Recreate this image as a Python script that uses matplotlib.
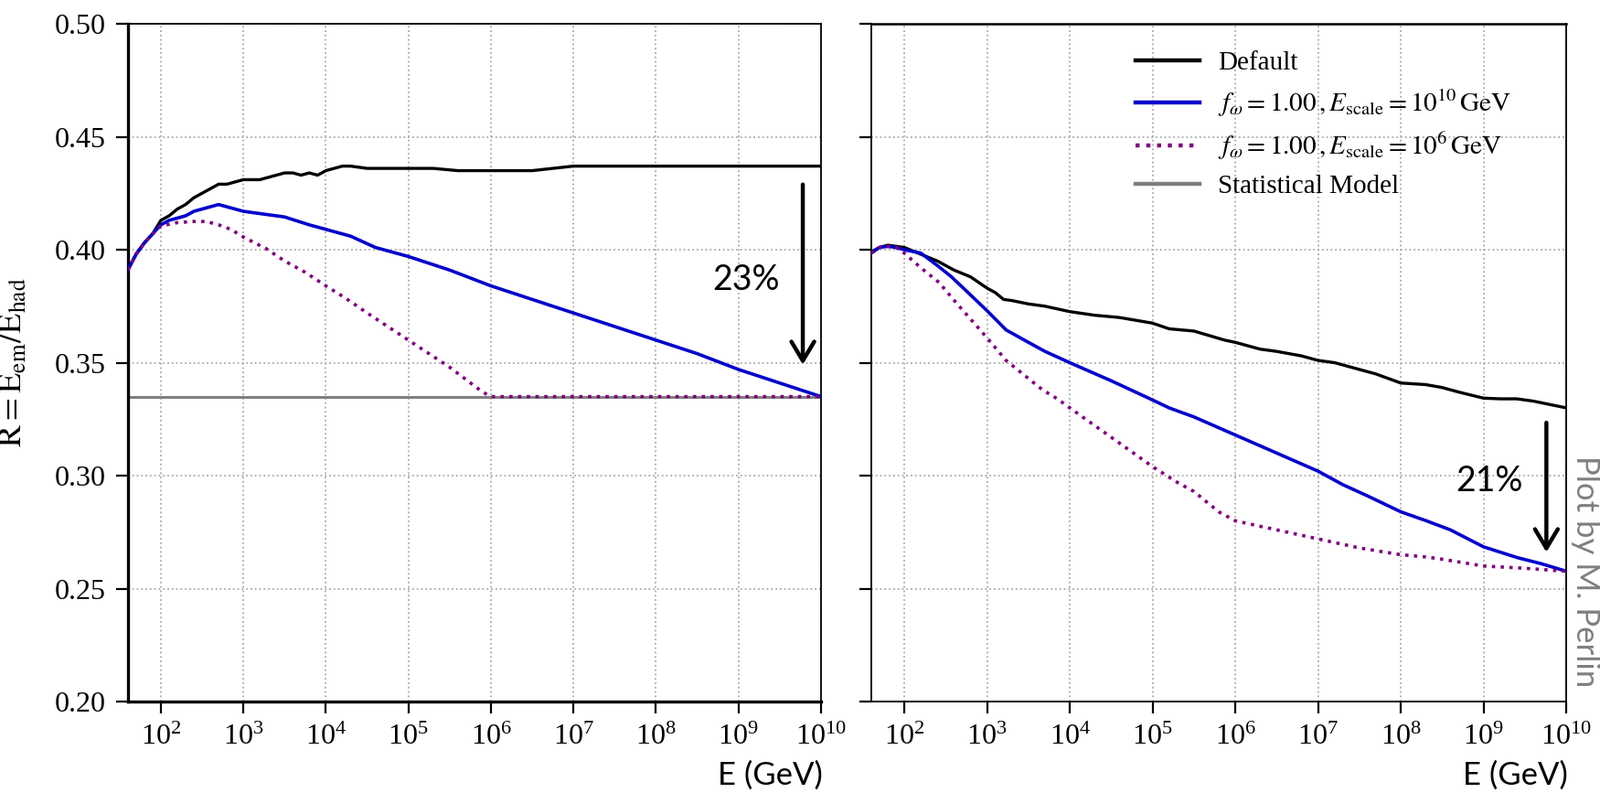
import numpy as np
import matplotlib
matplotlib.use('Agg')
import matplotlib.pyplot as plt
from matplotlib.ticker import FixedLocator, NullLocator, FormatStrFormatter

plt.rcParams['font.family'] = ['Liberation Serif', 'DejaVu Serif']
plt.rcParams['mathtext.fontset'] = 'stix'

# ---- data (log10 of E in GeV, R values) ----
# left panel
logE_def_l = [1.6, 1.7, 1.8, 1.9, 2.0, 2.1, 2.2, 2.3, 2.4, 2.5, 2.6, 2.7, 2.8, 2.9, 3.0, 3.2, 3.3,
              3.5, 3.6, 3.7, 3.8, 3.9, 4.0, 4.2, 4.3, 4.5, 4.8, 5.0, 5.3, 5.6, 6.0, 6.5, 7.0, 7.3,
              7.6, 8.0, 8.5, 9.0, 9.5, 10.0]
R_def_l = [0.391, 0.398, 0.403, 0.407, 0.413, 0.415, 0.418, 0.420, 0.423, 0.425, 0.427, 0.429, 0.429,
           0.430, 0.431, 0.431, 0.432, 0.434, 0.434, 0.433, 0.434, 0.433, 0.435, 0.437, 0.437, 0.436,
           0.436, 0.436, 0.436, 0.435, 0.435, 0.435, 0.437, 0.437, 0.437, 0.437, 0.437, 0.437,
           0.437, 0.437]

logE_e10_l = [1.6, 1.7, 1.8, 1.9, 2.0, 2.1, 2.2, 2.3, 2.4, 2.5, 2.6, 2.7, 2.8, 2.9, 3.0, 3.2, 3.5,
              3.8, 4.0, 4.3, 4.6, 5.0, 5.5, 6.0, 6.5, 7.0, 7.5, 8.0, 8.5, 9.0, 9.5, 10.0]
R_e10_l = [0.391, 0.398, 0.403, 0.407, 0.411, 0.413, 0.414, 0.415, 0.417, 0.418, 0.419, 0.420, 0.419,
           0.418, 0.417, 0.416, 0.4145, 0.411, 0.409, 0.406, 0.401, 0.397, 0.391, 0.384, 0.378,
           0.372, 0.366, 0.360, 0.354, 0.347, 0.341, 0.335]

logE_e6_l = [1.6, 1.7, 1.8, 1.9, 2.0, 2.2, 2.4, 2.55, 2.7, 2.85, 3.0, 3.28, 3.5, 3.75, 4.0, 4.22,
             4.5, 5.0, 5.5, 5.9, 6.0, 7.0, 8.0, 9.0, 10.0]
R_e6_l = [0.391, 0.398, 0.403, 0.407, 0.4105, 0.412, 0.4125, 0.4125, 0.411, 0.409, 0.4056, 0.4004,
          0.395, 0.390, 0.384, 0.379, 0.372, 0.360, 0.348, 0.337, 0.335, 0.335, 0.335, 0.335, 0.335]

R_stat = 0.335

# right panel
logE_def_r = [1.6, 1.7, 1.8, 1.9, 2.0, 2.2, 2.4, 2.6, 2.8, 3.0, 3.1, 3.2, 3.3, 3.5, 3.7, 4.0, 4.3,
              4.6, 5.0, 5.2, 5.5, 5.87, 6.0, 6.3, 6.5, 6.8, 7.0, 7.2, 7.5, 7.7, 8.0, 8.3, 8.5, 8.7,
              9.0, 9.2, 9.4, 9.6, 10.0]
R_def_r = [0.399, 0.401, 0.402, 0.4015, 0.401, 0.398, 0.395, 0.391, 0.388, 0.383, 0.381, 0.378,
           0.3775, 0.376, 0.375, 0.3726, 0.371, 0.370, 0.3675, 0.365, 0.364, 0.360, 0.359, 0.356,
           0.355, 0.353, 0.351, 0.350, 0.347, 0.345, 0.341, 0.3403, 0.339, 0.337, 0.3343, 0.334,
           0.334, 0.333, 0.330]

logE_e10_r = [1.6, 1.7, 1.8, 1.9, 2.0, 2.2, 2.4, 2.57, 2.8, 3.0, 3.23, 3.5, 3.7, 4.0, 4.5, 5.0, 5.2,
              5.5, 6.0, 6.5, 7.0, 7.3, 7.6, 8.0, 8.31, 8.6, 9.0, 9.41, 9.7, 10.0]
R_e10_r = [0.3985, 0.401, 0.4015, 0.401, 0.400, 0.3985, 0.393, 0.388, 0.380, 0.373, 0.3645, 0.359,
           0.355, 0.350, 0.342, 0.3335, 0.330, 0.326, 0.318, 0.310, 0.302, 0.296, 0.291, 0.284,
           0.280, 0.276, 0.2685, 0.2637, 0.261, 0.2577]

logE_e6_r = [1.6, 1.7, 1.8, 1.9, 2.0, 2.2, 2.42, 2.64, 3.0, 3.23, 3.5, 3.67, 3.85, 4.0, 4.5, 5.0,
             5.3, 5.5, 5.8, 6.0, 6.5, 7.0, 7.5, 8.0, 8.31, 8.5, 9.0, 9.5, 10.0]
R_e6_r = [0.3985, 0.401, 0.4015, 0.401, 0.3985, 0.392, 0.3855, 0.376, 0.361, 0.351, 0.343, 0.338,
          0.334, 0.330, 0.317, 0.304, 0.297, 0.293, 0.284, 0.280, 0.276, 0.272, 0.268, 0.265,
          0.264, 0.263, 0.260, 0.259, 0.2577]

labels = ['Default',
          r'$f_\omega = 1.00\,, E_\mathrm{scale} = 10^{10}\,\mathrm{GeV}$',
          r'$f_\omega = 1.00\,, E_\mathrm{scale} = 10^{6}\,\mathrm{GeV}$',
          'Statistical Model']
xticks = [1e2, 1e3, 1e4, 1e5, 1e6, 1e7, 1e8, 1e9, 1e10]
yticks = [0.20, 0.25, 0.30, 0.35, 0.40, 0.45, 0.50]

c_def = 'black'
c_e10 = '#0000cd'
c_e6 = '#800080'
c_stat = '#808080'

fig = plt.figure(figsize=(17.5, 8.67), dpi=100)
ax1 = fig.add_axes([0.080, 0.1153, 0.4331, 0.8547])
ax2 = fig.add_axes([0.5446, 0.1153, 0.4343, 0.8547])

hs = []
for ax, ld, rd, l10, r10, l6, r6 in [(ax1, logE_def_l, R_def_l, logE_e10_l, R_e10_l, logE_e6_l, R_e6_l),
                                      (ax2, logE_def_r, R_def_r, logE_e10_r, R_e10_r, logE_e6_r, R_e6_r)]:
    h1, = ax.plot(10 ** np.array(ld), rd, color=c_def, lw=2.4, zorder=3)
    h2, = ax.plot(10 ** np.array(l10), r10, color=c_e10, lw=2.6, zorder=4)
    h3, = ax.plot(10 ** np.array(l6), r6, color=c_e6, lw=2.6, ls=':', zorder=5)
    if ax is ax1:
        h4 = ax.axhline(R_stat, color=c_stat, lw=2.2, zorder=2)
        hs = [h1, h2, h3, h4]
    ax.set_xscale('log')
    ax.set_xlim(40, 1e10)
    ax.set_ylim(0.20, 0.50)
    ax.xaxis.set_major_locator(FixedLocator(xticks))
    ax.xaxis.set_minor_locator(NullLocator())
    ax.yaxis.set_major_locator(FixedLocator(yticks))
    ax.yaxis.set_major_formatter(FormatStrFormatter('%.2f'))
    ax.grid(True, color='#aaaaaa', ls=':', lw=1.3)
    ax.tick_params(direction='out', length=9.5, width=1.6, labelsize=23, pad=8)
    for s in ax.spines.values():
        s.set_linewidth(1.3)

ax1.spines['left'].set_linewidth(2.4)
ax1.spines['bottom'].set_linewidth(2.4)
ax2.spines['top'].set_linewidth(1.8)
ax2.tick_params(labelleft=False)

ax1.set_ylabel(r'$\mathrm{R = E_{em}/E_{had}}$', fontsize=26)
ax1.yaxis.set_label_coords(-0.1425, 0.5)

leg = ax2.legend(hs, labels, loc='upper left', bbox_to_anchor=(0.345, 0.995), frameon=False,
                 fontsize=21, handlelength=2.4, labelspacing=0.45, handletextpad=0.7)
for h in leg.get_lines():
    h.set_linewidth(3.2)

# arrows and percentages
arrow = dict(arrowstyle='->,head_length=0.5,head_width=0.3', lw=3.2, color='black', mutation_scale=30)
ax1.annotate('', xy=(10 ** 9.78, 0.348), xytext=(10 ** 9.78, 0.430), arrowprops=arrow)
ax1.text(10 ** 9.09, 0.3867, '23%', fontsize=27, family='Lato', ha='center', va='center')
ax2.annotate('', xy=(10 ** 9.76, 0.265), xytext=(10 ** 9.76, 0.3246), arrowprops=arrow)
ax2.text(10 ** 9.07, 0.2976, '21%', fontsize=27, family='Lato', ha='center', va='center')

fig.text(0.514, 0.022, 'E (GeV)', fontsize=25, family='Lato', ha='right', va='center')
fig.text(0.980, 0.022, 'E (GeV)', fontsize=25, family='Lato', ha='right', va='center')
fig.text(0.991, 0.279, 'Plot by M. Perlin', fontsize=25, family='Lato', color='#7f7f7f',
         rotation=270, ha='center', va='center')

fig.savefig('out.png', dpi=100)
